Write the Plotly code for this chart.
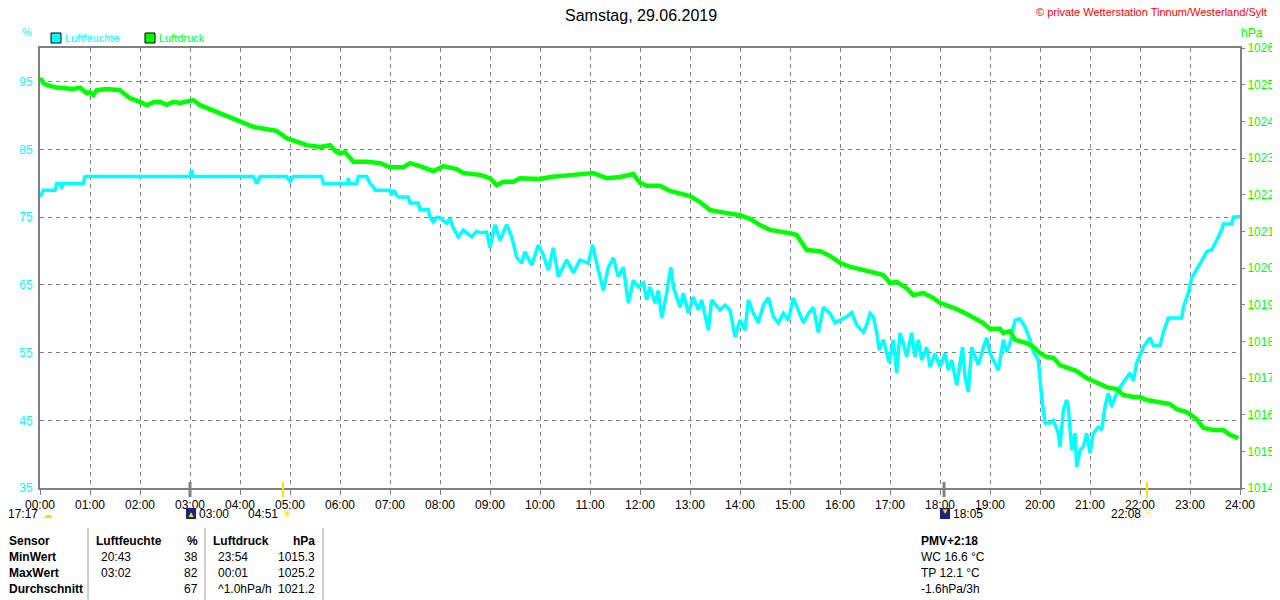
import plotly.graph_objects as go

# Luftfeuchte (%)
hum_time = ["00:00", "00:02", "00:04", "00:18", "00:20", "00:24", "00:26", "00:28", "00:52", "00:54",
            "03:00", "03:02", "03:04", "04:16", "04:20", "04:24", "04:56", "05:00", "05:04", "05:38",
            "05:40", "06:00", "06:09", "06:10", "06:11", "06:20", "06:22", "06:32", "06:36", "06:40",
            "06:42", "07:00", "07:02", "07:05", "07:08", "07:10", "07:22", "07:24", "07:34", "07:36",
            "07:46", "07:48", "07:52", "07:56", "08:00", "08:08", "08:12", "08:16", "08:22", "08:28",
            "08:38", "08:44", "08:48", "08:56", "09:00", "09:06", "09:12", "09:20", "09:26", "09:32",
            "09:38", "09:42", "09:50", "09:58", "10:04", "10:10", "10:16", "10:22", "10:32", "10:40",
            "10:48", "10:58", "11:03", "11:10", "11:16", "11:22", "11:28", "11:34", "11:40", "11:46",
            "11:52", "11:58", "12:04", "12:08", "12:12", "12:18", "12:22", "12:26", "12:32", "12:37",
            "12:40", "12:44", "12:48", "12:52", "12:58", "13:04", "13:10", "13:14", "13:22", "13:26",
            "13:36", "13:42", "13:48", "13:54", "14:00", "14:06", "14:10", "14:16", "14:22", "14:28",
            "14:34", "14:40", "14:46", "14:52", "14:58", "15:04", "15:10", "15:16", "15:22", "15:28",
            "15:34", "15:40", "15:48", "15:54", "16:00", "16:08", "16:14", "16:20", "16:28", "16:32",
            "16:36", "16:40", "16:44", "16:47", "16:52", "16:56", "16:59", "17:04", "17:08", "17:12",
            "17:16", "17:20", "17:26", "17:30", "17:34", "17:38", "17:44", "17:48", "17:54", "18:00",
            "18:06", "18:10", "18:14", "18:20", "18:24", "18:27", "18:30", "18:34", "18:38", "18:46",
            "18:52", "18:56", "19:00", "19:06", "19:10", "19:16", "19:20", "19:24", "19:30", "19:36",
            "19:42", "19:48", "19:52", "19:58", "20:02", "20:06", "20:12", "20:16", "20:22", "20:24",
            "20:28", "20:32", "20:34", "20:38", "20:42", "20:44", "20:48", "20:52", "20:56", "21:00",
            "21:04", "21:10", "21:14", "21:18", "21:22", "21:26", "21:30", "21:36", "21:42", "21:48",
            "21:52", "21:56", "22:00", "22:04", "22:12", "22:16", "22:24", "22:28", "22:34", "22:50",
            "22:52", "22:58", "23:02", "23:08", "23:16", "23:20", "23:26", "23:32", "23:38", "23:40",
            "23:50", "23:52", "24:00"]
hum_val = [78.0, 78.6, 79.0, 79.0, 80.0, 80.0, 79.3, 80.0, 80.0, 81.0,
           81.0, 82.0, 81.0, 81.0, 80.0, 81.0, 81.0, 80.3, 81.0, 81.0,
           80.0, 80.0, 80.0, 80.8, 80.0, 80.0, 81.0, 81.0, 80.0, 79.5,
           79.0, 79.0, 78.3, 79.0, 78.2, 78.0, 78.0, 77.1, 77.1, 76.1,
           76.1, 75.0, 74.3, 75.0, 74.9, 74.1, 74.8, 73.4, 72.1, 73.1,
           72.1, 72.9, 72.7, 72.8, 70.5, 73.9, 71.6, 73.9, 72.1, 69.1,
           68.2, 69.9, 67.9, 70.9, 69.4, 67.2, 70.5, 66.2, 68.7, 66.8,
           68.7, 68.2, 70.9, 67.2, 64.2, 67.6, 69.0, 66.2, 67.6, 62.3,
           65.7, 64.7, 65.3, 62.8, 64.7, 62.3, 64.2, 60.1, 63.8, 67.6,
           64.7, 63.2, 61.7, 63.8, 60.8, 63.2, 61.3, 62.8, 58.3, 62.8,
           61.3, 62.0, 61.3, 57.3, 59.8, 58.3, 62.8, 60.8, 59.4, 62.0,
           63.1, 60.3, 59.4, 60.8, 59.8, 63.1, 61.3, 59.4, 60.8, 61.7,
           58.0, 61.7, 60.8, 59.4, 59.8, 60.3, 60.9, 59.1, 58.0, 59.1,
           60.8, 60.3, 58.0, 55.4, 56.9, 54.9, 53.5, 56.9, 52.0, 57.9,
           56.4, 54.4, 57.9, 54.4, 56.9, 53.9, 55.8, 52.9, 54.9, 52.9,
           54.9, 52.4, 53.9, 50.2, 53.9, 55.8, 51.4, 49.2, 55.8, 53.2,
           55.8, 57.2, 54.9, 53.5, 52.4, 56.9, 55.1, 56.4, 59.8, 60.0,
           58.8, 56.9, 55.1, 53.9, 48.4, 44.6, 44.6, 45.0, 43.1, 41.1,
           46.5, 48.0, 47.0, 40.6, 43.1, 38.1, 40.6, 41.1, 43.1, 40.2,
           43.1, 44.0, 43.6, 47.0, 49.0, 47.0, 48.4, 49.9, 50.9, 52.0,
           50.9, 53.5, 54.6, 55.8, 57.2, 56.0, 56.0, 58.0, 60.1, 60.1,
           61.7, 63.8, 66.0, 67.2, 69.0, 69.9, 70.2, 71.6, 73.1, 74.0,
           74.0, 75.0, 75.1]

# Luftdruck (hPa)
pres_time = ["00:00", "00:04", "00:08", "00:20", "00:40", "00:48", "00:56", "01:00", "01:04", "01:08",
             "01:20", "01:36", "01:40", "01:48", "02:00", "02:08", "02:16", "02:24", "02:32", "02:40",
             "02:48", "03:00", "03:04", "03:12", "03:24", "03:36", "03:48", "04:00", "04:16", "04:32",
             "04:44", "04:56", "05:08", "05:20", "05:36", "05:48", "05:56", "06:00", "06:06", "06:16",
             "06:32", "06:48", "07:00", "07:16", "07:24", "07:36", "07:52", "08:04", "08:20", "08:28",
             "08:48", "09:00", "09:08", "09:16", "09:28", "09:36", "10:00", "10:12", "10:40", "11:04",
             "11:20", "11:36", "11:52", "12:00", "12:08", "12:24", "12:36", "12:48", "13:00", "13:12",
             "13:24", "13:36", "13:48", "14:00", "14:12", "14:24", "14:36", "14:48", "15:00", "15:08",
             "15:20", "15:36", "15:48", "16:00", "16:12", "16:24", "16:40", "16:52", "17:00", "17:08",
             "17:20", "17:28", "17:40", "17:52", "18:00", "18:12", "18:20", "18:30", "18:40", "18:52",
             "19:00", "19:12", "19:16", "19:24", "19:30", "19:44", "19:52", "20:00", "20:08", "20:16",
             "20:24", "20:36", "20:44", "20:56", "21:08", "21:20", "21:32", "21:40", "21:52", "22:00",
             "22:08", "22:24", "22:36", "22:44", "22:56", "23:08", "23:16", "23:28", "23:40", "23:48",
             "23:58"]
pres_val = [1025.18, 1025.05, 1024.99, 1024.92, 1024.88, 1024.92, 1024.77, 1024.80, 1024.72, 1024.85,
            1024.88, 1024.85, 1024.77, 1024.63, 1024.53, 1024.44, 1024.52, 1024.53, 1024.45, 1024.53,
            1024.50, 1024.58, 1024.58, 1024.44, 1024.33, 1024.23, 1024.14, 1024.00, 1023.85, 1023.79,
            1023.74, 1023.54, 1023.44, 1023.35, 1023.30, 1023.35, 1023.16, 1023.14, 1023.16, 1022.90,
            1022.90, 1022.86, 1022.75, 1022.75, 1022.86, 1022.78, 1022.64, 1022.78, 1022.70, 1022.59,
            1022.54, 1022.45, 1022.26, 1022.35, 1022.35, 1022.45, 1022.43, 1022.48, 1022.54, 1022.59,
            1022.45, 1022.48, 1022.56, 1022.32, 1022.24, 1022.24, 1022.10, 1022.02, 1021.96, 1021.80,
            1021.58, 1021.53, 1021.47, 1021.44, 1021.34, 1021.17, 1021.04, 1021.00, 1020.95, 1020.90,
            1020.49, 1020.46, 1020.33, 1020.14, 1020.03, 1019.97, 1019.89, 1019.81, 1019.59, 1019.62,
            1019.45, 1019.26, 1019.32, 1019.18, 1019.05, 1018.96, 1018.88, 1018.77, 1018.64, 1018.50,
            1018.34, 1018.34, 1018.23, 1018.28, 1018.04, 1017.95, 1017.85, 1017.68, 1017.57, 1017.55,
            1017.35, 1017.27, 1017.19, 1017.00, 1016.89, 1016.75, 1016.70, 1016.54, 1016.48, 1016.48,
            1016.40, 1016.32, 1016.29, 1016.15, 1016.07, 1015.88, 1015.64, 1015.58, 1015.58, 1015.45,
            1015.36]

hour_ticks = ["%02d:00" % h for h in range(25)]

stats_rows = ["Sensor", "MinWert", "MaxWert", "Durchschnitt"]
hum_stats_time = ["Luftfeuchte", "20:43", "03:02", ""]
hum_stats_val = ["%", "38", "82", "67"]
pres_stats_time = ["Luftdruck", "23:54", "00:01", "^1.0hPa/h"]
pres_stats_val = ["hPa", "1015.3", "1025.2", "1021.2"]
extra_lines = ["PMV+2:18", "WC 16.6 °C", "TP 12.1 °C", "-1.6hPa/3h"]

CYAN = "#00FFFF"
GREEN = "#00FF00"
GRAY = "#808080"
FONT = "Liberation Sans"


def to_hours(t):
    h, m = t.split(":")
    return int(h) + int(m) / 60.0


# the page adds an 8px body margin, so the figure is 8px smaller and
# all positions below are given in screen pixels (plot area x 40..1240, y 48..488)
def px(x):
    return (x - 40) / 1200.0


def py(y):
    return (488 - y) / 440.0


fig = go.Figure()
fig.add_trace(go.Scatter(x=[to_hours(t) for t in hum_time], y=hum_val, mode="lines",
                         line=dict(color=CYAN, width=3.5), name="Luftfeuchte", yaxis="y"))
fig.add_trace(go.Scatter(x=[to_hours(t) for t in pres_time], y=pres_val, mode="lines",
                         line=dict(color=GREEN, width=4.5), name="Luftdruck", yaxis="y2"))

ann = []
shapes = []


def text(x, y, s, color="black", size=12, anchor="left", bold=False):
    if bold:
        s = "<b>" + s + "</b>"
    ann.append(dict(x=px(x), y=py(y), xref="paper", yref="paper", text=s, showarrow=False,
                    xanchor=anchor, yanchor="middle", borderpad=0,
                    font=dict(family=FONT, size=size, color=color)))


text(641, 15, "Samstag, 29.06.2019", size=16, anchor="center")
text(1268, 12, "© private Wetterstation Tinnum/Westerland/Sylt", color="red", size=11, anchor="right")
text(27, 32, "%", color=CYAN, size=11, anchor="center")
text(1240, 33, "hPa", color=GREEN, size=12)

# legend boxes
for x0, col, label in [(51, CYAN, "Luftfeuchte"), (145, GREEN, "Luftdruck")]:
    shapes.append(dict(type="rect", xref="paper", yref="paper", x0=px(x0), x1=px(x0 + 10),
                       y0=py(43), y1=py(33), fillcolor=col, line=dict(color="black", width=1)))
    text(x0 + 13, 38, label, color=col, size=11)

# sun / moon markers below axis
text(7, 514, "17:17")
text(42, 514, "☁", color="#F5E000", size=10)
shapes.append(dict(type="rect", xref="paper", yref="paper", x0=px(186), x1=px(196),
                   y0=py(519), y1=py(508), fillcolor="#1A237E", line=dict(width=0)))
text(191, 515, "▲", color="#FFE000", size=8, anchor="center")
text(198, 514, "03:00")
text(247, 514, "04:51")
text(287, 514, "☀", color="#FFE000", size=12, anchor="center")
shapes.append(dict(type="rect", xref="paper", yref="paper", x0=px(940), x1=px(950),
                   y0=py(519), y1=py(508), fillcolor="#1A237E", line=dict(width=0)))
text(945, 512, "▼", color="#FFE000", size=8, anchor="center")
text(952, 514, "18:05")
text(1110, 514, "22:08")
text(1149, 515, "□", color="#FFE000", size=9, anchor="center")
for xm, col, w in [(283, "#FFE000", 2), (1147, "#FFE000", 2), (190, GRAY, 3), (944, GRAY, 3)]:
    shapes.append(dict(type="line", xref="paper", yref="paper", x0=px(xm), x1=px(xm),
                       y0=py(482), y1=py(497), line=dict(color=col, width=w)))

# stats table
row_y = [541, 557, 573, 589]
for i, yy in enumerate(row_y):
    b = i == 0
    text(8, yy, stats_rows[i], bold=True)
    text(95 if b else 100, yy, hum_stats_time[i], bold=b)
    text(199, yy, hum_stats_val[i], bold=b, anchor="right")
    text(212 if b else 217, yy, pres_stats_time[i], bold=b)
    text(316, yy, pres_stats_val[i], bold=b, anchor="right")
    text(920, yy, extra_lines[i], bold=b)
for xs in [88, 205, 323, 1279]:
    shapes.append(dict(type="line", xref="paper", yref="paper", x0=px(xs), x1=px(xs),
                       y0=py(528), y1=py(600), line=dict(color="#A0A0A0", width=1)))

fig.update_layout(
    width=1272, height=592,
    margin=dict(l=32, r=40, t=40, b=112),
    plot_bgcolor="white", paper_bgcolor="white",
    showlegend=False,
    font=dict(family=FONT, size=12, color="black"),
    xaxis=dict(range=[0, 24], tickvals=list(range(25)), ticktext=hour_ticks, automargin=False,
               showgrid=True, gridcolor=GRAY, griddash="4px,4px", gridwidth=1,
               showline=True, linecolor=GRAY, linewidth=2, mirror=True,
               ticks="outside", ticklen=5, tickcolor=GRAY, tickfont=dict(size=12, color="black"),
               zeroline=False),
    yaxis=dict(range=[35, 100], tickvals=[35, 45, 55, 65, 75, 85, 95], automargin=False,
               showgrid=True, gridcolor=GRAY, griddash="4px,4px", gridwidth=1,
               showline=True, linecolor=GRAY, linewidth=2, ticks="", ticklabelstandoff=3,
               tickfont=dict(size=12, color=CYAN), zeroline=False),
    yaxis2=dict(range=[1014, 1026], tickvals=list(range(1014, 1027)), overlaying="y", side="right",
                automargin=False, showgrid=False, showline=True, linecolor=GRAY, linewidth=2,
                ticks="outside", ticklen=3, tickcolor=GRAY, ticklabelstandoff=0,
                tickfont=dict(size=12, color=GREEN), zeroline=False),
    annotations=ann, shapes=shapes,
)

fig.write_html("out.html")
